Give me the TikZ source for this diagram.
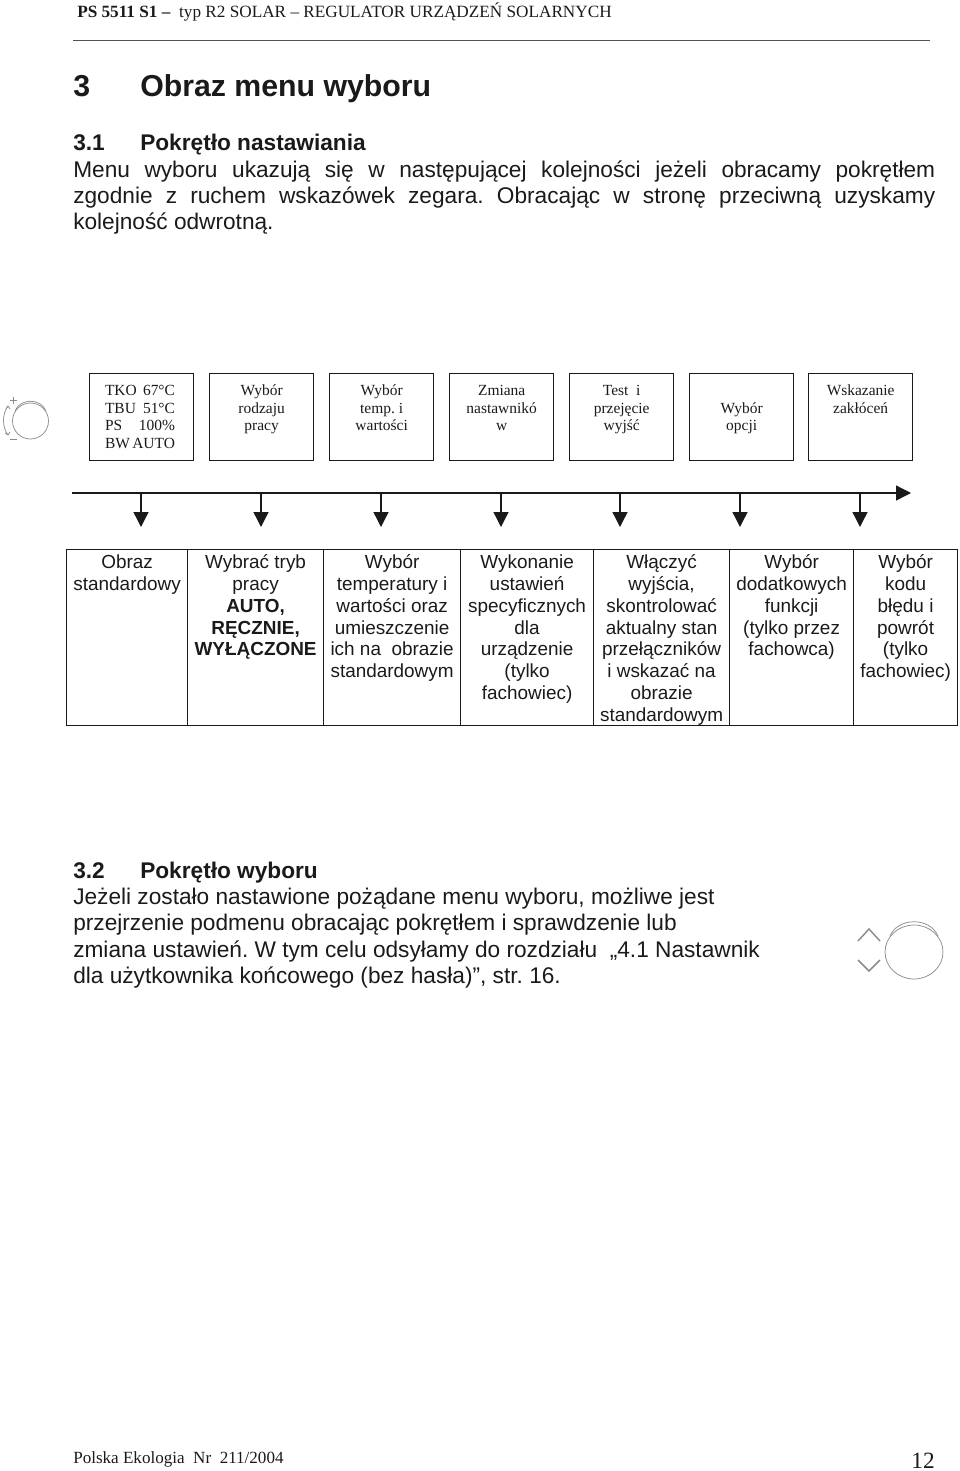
\documentclass[tikz,border=0pt]{standalone}
\usepackage{fontspec}
\setmainfont{Liberation Serif}
\setsansfont{Liberation Sans}
\usetikzlibrary{arrows.meta}
\definecolor{pageink}{HTML}{1A1A1A}
\definecolor{knobgray}{HTML}{8C8C8C}
\newcommand{\fullline}[1]{\makebox[646.5pt][s]{#1}}
\newcommand{\readout}[2]{\makebox[55pt][l]{\makebox[52.5pt][s]{#1\hfill #2}}}
\tikzset{
  bodytext/.style={anchor=base west, inner sep=0pt, pageink, font=\sffamily\fontsize{17}{20}\selectfont},
  headtext/.style={anchor=base west, inner sep=0pt, pageink, font=\sffamily\bfseries\fontsize{17}{20}\selectfont},
  titletext/.style={headtext, font=\sffamily\bfseries\fontsize{22.7}{26}\selectfont},
  statebox/.style={draw=pageink, line width=1pt, anchor=north west, inner sep=0pt, pageink,
    font=\rmfamily\fontsize{11.6}{13.1}\selectfont},
  cellbox/.style={draw=pageink!70, line width=0.9pt, anchor=north west, inner sep=0pt, pageink,
    font=\sffamily\fontsize{14.2}{16.35}\selectfont},
  busarrow/.style={pageink, line width=1pt, -{Triangle[length=11.25pt,width=11.25pt]}},
  knobline/.style={knobgray, line width=0.55pt},
  chevron/.style={knobgray, line width=1.1pt},
}
\begin{document}
\frenchspacing
\begin{tikzpicture}[x=0.75pt, y=-0.75pt, line join=miter]
  \useasboundingbox (0,0) rectangle (960,1471);

  % header
  \node[anchor=base west, inner sep=0pt, pageink, font=\rmfamily\fontsize{12.9}{14}\selectfont] (runhead) at (77,17)
    {\textbf{PS 5511 S1 –}\ \ typ R2 SOLAR – REGULATOR URZĄDZEŃ SOLARNYCH};
  \draw[pageink!75, line width=0.7pt] (73,40)--(930,40);

  % section 3
  \node[titletext] (secnum) at (73,96.5) {3};
  \node[titletext] (sectitle) at (140,96.5) {Obraz menu wyboru};
  \node[headtext] (subnuma) at (73,150.5) {3.1};
  \node[headtext] (subtitlea) at (140,150.5) {Pokrętło nastawiania};
  \node[bodytext] (linea) at (73,177) {\fullline{Menu wyboru ukazują się w następującej kolejności jeżeli obracamy pokrętłem}};
  \node[bodytext] (lineb) at (73,203) {\fullline{zgodnie z ruchem wskazówek zegara. Obracając w stronę przeciwną uzyskamy}};
  \node[bodytext] (linec) at (73,229) {kolejność odwrotną.};

  % knob at the left
  \draw[knobline] (30.5,421) circle (18);
  \draw[knobline] (15,411) .. controls (20,398) and (41,398) .. (46,411);
  \draw[knobline] (8,406) .. controls (2,414) and (2,427) .. (8,435);
  \draw[knobline] (6,409)--(8,406)--(10,409);
  \draw[knobline] (5,433)--(8,435)--(10,432);
  \draw[knobline] (9.5,400)--(16.5,400) (13,396.5)--(13,403.5);
  \draw[knobline] (9.5,439)--(16.5,439);

  % boxes above the bus
  \foreach \nm/\xl/\txt in {
    boxa/89/{\readout{TKO}{67°C}\\\readout{TBU}{51°C}\\\readout{PS}{100\%}\\\readout{BW}{AUTO}},
    boxb/209/{Wybór\\rodzaju\\pracy},
    boxc/329/{Wybór\\temp. i\\wartości},
    boxd/449/{Zmiana\\nastawnikó\\w},
    boxe/569/{Test\ \ i\\przejęcie\\wyjść},
    boxf/689/{\mbox{}\\Wybór\\opcji},
    boxg/808/{Wskazanie\\zakłóceń}}
    \node[statebox] (\nm) at (\xl,373)
      {\parbox[c][65.25pt][t]{78pt}{\centering\rule{0pt}{16.5pt}\txt}};

  % bus with its drops
  \coordinate (busstart) at (72,493);
  \coordinate (busend) at (911,493);
  \draw[busarrow] (busstart)--(busend);
  \foreach \nm/\xl in {dropa/141, dropb/261, dropc/381, dropd/501, drope/620, dropf/740, dropg/860}{
    \coordinate (\nm) at (\xl,493);
    \coordinate (\nm tip) at (\xl,527);
    \draw[busarrow] (\nm)--(\nm tip);
  }

  % table
  \foreach \nm/\xl/\cw/\txt in {
    cella/66/121/{Obraz\\standardowy},
    cellb/187/136/{Wybrać tryb\\pracy\\\textbf{AUTO,}\\\textbf{RĘCZNIE,}\\\textbf{WYŁĄCZONE}},
    cellc/323/137/{Wybór\\temperatury i\\wartości oraz\\umieszczenie\\ich na\ \ obrazie\\standardowym},
    celld/460/133/{Wykonanie\\ustawień\\specyficznych\\dla\\urządzenie\\(tylko\\fachowiec)},
    celle/593/136/{Włączyć\\wyjścia,\\skontrolować\\aktualny stan\\przełączników\\i wskazać na\\obrazie\\standardowym},
    cellf/729/124/{Wybór\\dodatkowych\\funkcji\\(tylko przez\\fachowca)},
    cellg/853/104/{Wybór\\kodu\\błędu i\\powrót\\(tylko\\fachowiec)}}
    \node[cellbox] (\nm) at (\xl,549)
      {\parbox[c][132pt][t]{\dimexpr\cw pt*3/4\relax}{\centering\rule{0pt}{14.3pt}\txt}};

  % section 3.2
  \node[headtext] (subnumb) at (73,878.5) {3.2};
  \node[headtext] (subtitleb) at (140,878.5) {Pokrętło wyboru};
  \node[bodytext] (lined) at (73,904.5) {Jeżeli zostało nastawione pożądane menu wyboru, możliwe jest};
  \node[bodytext] (linee) at (73,930.5) {przejrzenie podmenu obracając pokrętłem i sprawdzenie lub};
  \node[bodytext] (linef) at (73,957.5) {zmiana ustawień. W tym celu odsyłamy do rozdziału\ \ „4.1 Nastawnik};
  \node[bodytext] (lineg) at (73,983) {dla użytkownika końcowego (bez hasła)”, str. 16.};

  % knob at the right
  \draw[knobline] (914,952) ellipse (29 and 27);
  \draw[knobline] (890,936) .. controls (898,917) and (930,917) .. (938,936);
  \draw[chevron] (858,941)--(869,929)--(880,941);
  \draw[chevron] (858,960)--(869,971)--(880,960);

  % footer
  \node[anchor=base west, inner sep=0pt, pageink, font=\rmfamily\fontsize{12.8}{14}\selectfont] (foottext) at (73,1463) {Polska Ekologia\ \ Nr\ \ 211/2004};
  \node[anchor=base east, inner sep=0pt, pageink, font=\rmfamily\fontsize{17.5}{18}\selectfont] (pagenum) at (935,1468) {12};
\end{tikzpicture}
\end{document}
